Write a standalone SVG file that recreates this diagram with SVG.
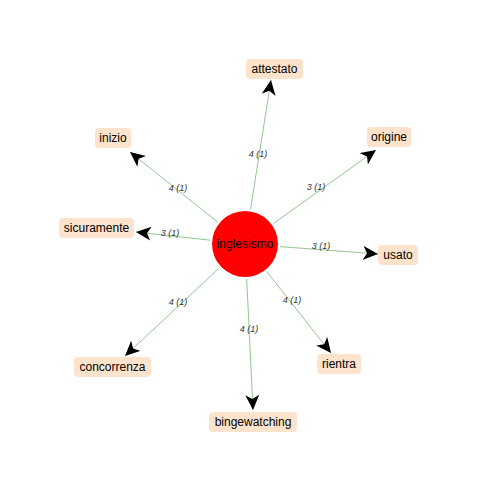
<svg xmlns="http://www.w3.org/2000/svg" width="500" height="500" viewBox="0 0 500 500">
<style>
.box{fill:#fde3cc;}
.lbl{font-family:"Liberation Sans",Arial,sans-serif;font-size:12px;fill:#000;text-anchor:middle;dominant-baseline:central;}
.edge{stroke:#8fc98f;stroke-width:1;fill:none;marker-end:url(#arr);}
.el{font-family:"Liberation Sans",Arial,sans-serif;font-size:9px;font-style:italic;fill:#333;text-anchor:middle;dominant-baseline:central;}
</style>
<defs>
<marker id="arr" markerUnits="userSpaceOnUse" markerWidth="16" markerHeight="14" refX="15" refY="7" orient="auto" viewBox="0 0 16 14">
<path d="M0,0 L15,7 L0,14 L4,7 z" fill="#000"/>
</marker>
</defs>
<rect width="500" height="500" fill="#fff"/>
<g id="connectors">
<line class="edge" x1="250.5" y1="209.4" x2="271" y2="80"/>
<line class="edge" x1="217.7" y1="222.1" x2="130" y2="152"/>
<line class="edge" x1="273.4" y1="223.6" x2="376" y2="150"/>
<line class="edge" x1="210.2" y1="240.2" x2="136" y2="232"/>
<line class="edge" x1="279.9" y1="246.6" x2="378" y2="254"/>
<line class="edge" x1="219.4" y1="267.9" x2="125" y2="356"/>
<line class="edge" x1="266.7" y1="271.5" x2="331" y2="353"/>
<line class="edge" x1="246.7" y1="279" x2="253" y2="410"/>
<text class="el" x="258" y="154">4 (1)</text>
<text class="el" x="178" y="188">4 (1)</text>
<text class="el" x="316" y="187">3 (1)</text>
<text class="el" x="170" y="233">3 (1)</text>
<text class="el" x="321" y="246">3 (1)</text>
<text class="el" x="178" y="302">4 (1)</text>
<text class="el" x="292" y="300">4 (1)</text>
<text class="el" x="249" y="329">4 (1)</text>
</g>
<g id="inglesismo"><circle cx="245" cy="244" r="33" fill="#ff0000"/><text class="lbl" x="245" y="244">inglesismo</text></g>
<g id="attestato"><rect class="box" x="246" y="59" width="57" height="20" rx="4"/><text class="lbl" x="274.5" y="69">attestato</text></g>
<g id="inizio"><rect class="box" x="95" y="128" width="36" height="20" rx="4"/><text class="lbl" x="113" y="138">inizio</text></g>
<g id="origine"><rect class="box" x="367" y="127" width="44" height="20" rx="4"/><text class="lbl" x="389" y="137">origine</text></g>
<g id="sicuramente"><rect class="box" x="59" y="218" width="75" height="20" rx="4"/><text class="lbl" x="96.5" y="228">sicuramente</text></g>
<g id="usato"><rect class="box" x="378" y="245" width="40" height="20" rx="4"/><text class="lbl" x="398" y="255">usato</text></g>
<g id="concorrenza"><rect class="box" x="74" y="357" width="77" height="20" rx="4"/><text class="lbl" x="112.5" y="367">concorrenza</text></g>
<g id="rientra"><rect class="box" x="317" y="354" width="44" height="20" rx="4"/><text class="lbl" x="339" y="364">rientra</text></g>
<g id="bingewatching"><rect class="box" x="209" y="412" width="88" height="20" rx="4"/><text class="lbl" x="253" y="422">bingewatching</text></g>
</svg>
